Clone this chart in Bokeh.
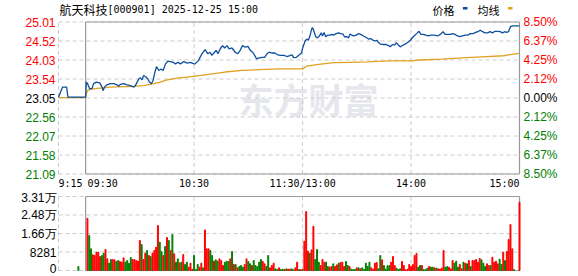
from bokeh.plotting import figure
from bokeh.models import Range1d
from bokeh.core.properties import value
from bokeh.embed import file_html
from bokeh.resources import INLINE

# ---------------- data ----------------
title_name = "航天科技"
title_code = "[000901] 2025-12-25 15:00"
legend_labels = ["价格", "均线"]
watermark = "东方财富"

prev_close = 23.05
price_ticks = [25.01, 24.52, 24.03, 23.54, 23.05, 22.56, 22.07, 21.58, 21.09]
pct_labels = ["8.50%", "6.37%", "4.25%", "2.12%", "0.00%", "2.12%", "4.25%", "6.37%", "8.50%"]
vol_ticks = [33125, 24844, 16562, 8281, 0]
vol_labels = ["3.31万", "2.48万", "1.66万", "8281", "0"]
time_ticks = [-15, 0, 60, 120, 180, 240]          # minutes from 09:30
time_labels = ["9:15", "09:30", "10:30", "11:30/13:00", "14:00", "15:00"]
grid_minutes = [-15, 60, 120, 180]

# price line (minutes from 09:30, price)
pre_t = [-15, -12.8, -10.5, -9.8, 0]
pre_p = [23.07, 23.33, 23.33, 23.07, 23.07]

am_t = [0.4, 1.1, 2.2, 3.5, 4.4, 5.9, 7.8, 9.1, 9.6, 10.4,
        11.8, 13.7, 15.5, 17.4, 18.3, 19.2, 21.1, 22.9, 24.8, 26.6,
        27.5, 28.5, 29.4, 30.3, 31.2, 32.1, 33.4, 34.4, 35.3, 36.4,
        37.3, 38.1, 38.6, 39.2, 40.5, 41.8, 42.9, 44.2, 45.5, 46.9,
        48.4, 49.7, 51.0, 52.5, 54.3, 56.2, 58.0, 59.9, 60.6, 62.5,
        64.3, 66.1, 67.6, 68.9, 69.8, 71.3, 72.2, 73.2, 74.5, 75.8,
        76.9, 78.2, 79.4, 80.9, 82.8, 84.1, 85.5, 86.8, 88.3, 89.8,
        91.1, 92.4, 93.5, 94.6, 95.7, 97.6, 99.0, 100.3, 101.6, 103.1,
        104.6, 106.4, 107.7, 109.6, 111.4, 113.3, 114.2, 115.1, 116.6, 117.9,
        119.4, 120.0]
am_p = [23.46, 23.42, 23.29, 23.29, 23.42, 23.46, 23.44, 23.33, 23.24, 23.33,
        23.39, 23.42, 23.42, 23.39, 23.35, 23.40, 23.42, 23.39, 23.37, 23.33,
        23.37, 23.46, 23.54, 23.57, 23.52, 23.63, 23.59, 23.54, 23.46, 23.42,
        23.50, 23.67, 23.76, 23.86, 23.76, 23.80, 23.76, 23.93, 24.00, 23.99,
        23.97, 23.93, 23.97, 23.93, 23.99, 23.95, 23.97, 23.93, 23.93, 24.02,
        24.19, 24.30, 24.19, 24.23, 24.15, 24.23, 24.28, 24.19, 24.32, 24.40,
        24.34, 24.40, 24.32, 24.34, 24.23, 24.19, 24.28, 24.40, 24.36, 24.38,
        24.28, 24.23, 24.15, 24.06, 24.08, 24.10, 24.10, 24.19, 24.23, 24.21,
        24.21, 24.16, 24.15, 24.15, 24.12, 24.15, 24.16, 24.09, 24.10, 24.15,
        24.21, 24.33]

pm_t = [121.4, 122.3, 123.2, 124.2, 125.1, 125.6, 126.4, 127.3, 128.2, 129.3,
        130.3, 131.0, 131.9, 132.8, 133.8, 135.2, 136.2, 137.1, 138.6, 139.9,
        141.2, 142.3, 143.2, 144.5, 145.4, 146.3, 147.3, 148.2, 149.7, 150.9,
        152.2, 153.7, 155.2, 156.5, 157.8, 158.9, 160.2, 161.1, 162.0, 163.0,
        164.8, 166.3, 167.6, 168.5, 169.8, 170.9, 171.8, 172.7, 174.0, 175.5,
        176.8, 178.1, 179.6, 181.2, 183.1, 184.4, 185.5, 186.8, 188.1, 189.6,
        191.0, 192.9, 194.7, 196.2, 197.7, 198.8, 200.3, 201.8, 202.9, 204.3,
        205.8, 207.1, 208.4, 209.9, 211.4, 212.8, 214.3, 215.8, 217.3, 218.4,
        219.5, 221.0, 222.4, 223.7, 225.0, 226.5, 228.0, 229.3, 230.6, 231.7,
        232.8, 233.9, 235.0, 236.1, 237.6, 240.0]
pm_p = [24.52, 24.57, 24.54, 24.67, 24.84, 24.86, 24.76, 24.63, 24.60, 24.65,
        24.73, 24.65, 24.74, 24.63, 24.67, 24.67, 24.69, 24.67, 24.71, 24.73,
        24.71, 24.70, 24.63, 24.63, 24.60, 24.70, 24.67, 24.65, 24.67, 24.71,
        24.69, 24.65, 24.61, 24.57, 24.58, 24.54, 24.52, 24.54, 24.48, 24.44,
        24.43, 24.43, 24.40, 24.37, 24.43, 24.41, 24.48, 24.43, 24.37, 24.41,
        24.44, 24.48, 24.54, 24.63, 24.71, 24.77, 24.69, 24.69, 24.67, 24.65,
        24.67, 24.67, 24.65, 24.69, 24.76, 24.69, 24.69, 24.69, 24.71, 24.69,
        24.65, 24.63, 24.65, 24.67, 24.67, 24.71, 24.71, 24.74, 24.77, 24.80,
        24.76, 24.73, 24.73, 24.76, 24.73, 24.77, 24.77, 24.76, 24.73, 24.76,
        24.74, 24.76, 24.89, 24.91, 24.91, 24.91]

avg_t = [-15, 0, 0.4, 1.1, 2.6, 6.3, 13.7, 26.6, 32.1, 37.7,
         41.4, 45.1, 50.6, 59.9, 68.0, 77.2, 86.5, 95.7, 106.8, 120.0,
         122.3, 127.9, 137.1, 146.3, 155.6, 168.5, 180.5, 184.0, 196.9, 210.8,
         219.1, 231.1, 234.8, 240]
avg_p = [23.06, 23.06, 23.16, 23.24, 23.27, 23.30, 23.33, 23.35, 23.37, 23.42,
         23.46, 23.52, 23.56, 23.61, 23.66, 23.72, 23.76, 23.78, 23.80, 23.80,
         23.87, 23.91, 23.96, 23.97, 23.98, 24.01, 24.01, 24.03, 24.05, 24.09,
         24.11, 24.14, 24.17, 24.20]

# volume per minute (morning 1..120, afternoon 121..237), r = up, g = down
vol_am = [23393, 15645, 9685, 7003, 6705, 8195, 8195, 6258, 6705, 7748,
          9387, 5215, 3278, 4917, 4917, 4768, 4023, 4470, 4023, 3725,
          5662, 3725, 4470, 3278, 5811, 4917, 4917, 4470, 4172, 13410,
          11622, 4917, 7748, 8940, 6705, 6258, 7748, 8940, 10430, 20115,
          12665, 8493, 6705, 10728, 14751, 13410, 8940, 16092, 7450, 3725,
          5215, 3427, 3725, 7152, 2682, 3725, 1490, 3278, 596, 6705,
          447, 2682, 1490, 3278, 1192, 18178, 9685, 9685, 8940, 6705,
          4172, 4768, 4172, 5215, 4470, 2235, 3725, 4172, 4023, 5215,
          8493, 2682, 2682, 1192, 1788, 2235, 1490, 2682, 5215, 4023,
          2980, 2235, 4470, 2235, 1788, 3725, 4917, 4023, 2980, 1788,
          6705, 1192, 2235, 3278, 745, 447, 1192, 447, 596, 447,
          745, 596, 596, 745, 298, 1192, 3725, 447, 447, 447]
dir_am = "rggrrrrrgg" "rrggrrggrr" "rggggrrrrr" "grrgrgrrrr" "ggrgrgrgrg" \
         "grgrggrrrg" "ggrrgrrrgg" "rggrrrgggr" "grgrgggrrg" "grgggggrrg" \
         "grrrggrggr" "grrggrrgrg"
vol_pm = [13112, 26373, 8642, 7748, 9238, 19817, 4917, 9387, 3725, 2235,
          4917, 3725, 3725, 1788, 1490, 1788, 2980, 1788, 2533, 3278,
          3576, 3725, 1788, 4023, 2235, 1788, 596, 447, 447, 1192,
          1192, 745, 1192, 447, 3278, 1788, 3725, 1192, 596, 3278,
          3576, 745, 6705, 4768, 2235, 596, 2086, 2235, 3725, 6258,
          2235, 1043, 447, 745, 4023, 2235, 298, 596, 2682, 1788,
          2682, 6705, 7599, 1490, 2235, 2235, 447, 447, 1043, 1788,
          1490, 1490, 1192, 1043, 745, 596, 1043, 8940, 1490, 1788,
          1490, 745, 4470, 3278, 4172, 1490, 2682, 745, 3725, 3278,
          2980, 4470, 1788, 4470, 4470, 4917, 3725, 5364, 4768, 3278,
          1788, 2980, 2235, 2235, 5960, 3725, 4172, 2980, 5066, 2682,
          8195, 4470, 8493, 13857, 20562, 9685, 447]
dir_pm = "rrrgrrgggr" "rrggrrgrrg" "rrrggrgggr" "grgggggrrr" "rggrggggrr" \
         "rgggrrrrrr" "rrrggrgggr" "ggrgrrrrgg" "rrrgggrrgr" "grgrrrrrgg" \
         "grrgrrrrgg" "rgrrrrg"
vol_pre = (-4, 1788, "g")      # 9:25 auction
vol_close = (240, 30545, "r")  # 15:00 closing auction

# ---------------- geometry ----------------
W, H = 578, 276
XL, XR = 58.0, 519.0          # pixel x of 9:15 and 15:00
PT, PB = 21.5, 173.5          # pixel y of top/bottom price ticks
VT, VB = 196.0, 270.0         # pixel y of top/bottom volume ticks
m_lo, m_hi = time_ticks[0], time_ticks[-1]
p_hi, p_lo = price_ticks[0], price_ticks[-1]
v_hi = vol_ticks[0]

ppm = (XR - XL) / (m_hi - m_lo)
xr = Range1d(m_lo - XL / ppm, m_hi + (W - XR) / ppm)
ppp = (PB - PT) / (p_hi - p_lo)
yr = Range1d(p_lo - (H - PB) / ppp, p_hi + PT / ppp)
vpp = (VB - VT) / v_hi
vr = Range1d(-(H - VB) / vpp, v_hi + VT / vpp)

RED, GREEN, BLACK = "#ff0000", "#008000", "#000000"
GRID, FRAME = "#cccccc", "#999999"
BLUE, GOLD = "#0d4f9e", "#e0a21e"

p = figure(width=W, height=H, x_range=xr, y_range=yr, output_backend="svg",
           toolbar_location=None, min_border=0,
           x_axis_location=None, y_axis_location=None)
p.extra_y_ranges = {"vol": vr, "px": Range1d(H, 0)}
p.extra_x_ranges = {"px": Range1d(0, W)}
p.grid.visible = False
p.outline_line_color = None
p.background_fill_color = "white"
p.border_fill_color = "white"

# watermark
p.text(x=[238], y=[98], text=[watermark], x_range_name="px", y_range_name="px",
       text_font=value("Noto Sans CJK SC"), text_font_size="35px", text_font_style="bold",
       text_color="#e6e7ec", text_baseline="middle", text_align="left")

# ---- price grid ----
n = len(price_ticks)
p.segment(x0=[m_lo] * n, x1=[m_hi] * n, y0=price_ticks, y1=price_ticks,
          line_color=GRID, line_dash="4 3", line_width=1)
g = len(grid_minutes)
p.segment(x0=grid_minutes, x1=grid_minutes, y0=[p_lo] * g, y1=[p_hi] * g,
          line_color=GRID, line_dash="4 3", line_width=1)
p.segment(x0=[0, 240, 0, 0], x1=[0, 240, 240, 240], y0=[p_lo, p_lo, p_hi, p_lo],
          y1=[p_hi, p_hi, p_hi, p_lo], line_color=FRAME, line_width=1.2)

# ---- volume grid ----
k = len(vol_ticks)
p.segment(x0=[m_lo] * k, x1=[m_hi] * k, y0=vol_ticks, y1=vol_ticks, y_range_name="vol",
          line_color=GRID, line_dash="4 3", line_width=1)
p.segment(x0=grid_minutes, x1=grid_minutes, y0=[0] * g, y1=[v_hi] * g, y_range_name="vol",
          line_color=GRID, line_dash="4 3", line_width=1)
p.segment(x0=[0, 240, 0, 0], x1=[0, 240, 240, 240], y0=[0, 0, v_hi, 0],
          y1=[v_hi, v_hi, v_hi, 0], y_range_name="vol", line_color=FRAME, line_width=1.2)

# ---- volume bars ----
vx = [vol_pre[0]] + list(range(1, 1 + len(vol_am))) + \
     list(range(121, 121 + len(vol_pm))) + [vol_close[0]]
vv = [vol_pre[1]] + vol_am + vol_pm + [vol_close[1]]
vd = vol_pre[2] + dir_am + dir_pm + vol_close[2]
vc = [RED if d == "r" else GREEN for d in vd]
p.vbar(x=vx, top=vv, bottom=0, width=0.52, color=vc, y_range_name="vol")

# ---- price & average lines ----
p.line(avg_t, avg_p, line_color=GOLD, line_width=1.3)
p.line(pre_t + am_t + pm_t, pre_p + am_p + pm_p, line_color=BLUE, line_width=1.3)

# ---- tick labels ----
pcol = [RED if v > prev_close + 1e-9 else (GREEN if v < prev_close - 1e-9 else BLACK)
        for v in price_ticks]
p.text(x=55, y=price_ticks, text=[f"{v:.2f}" for v in price_ticks], x_range_name="px",
       text_color=pcol, text_font=value("Liberation Sans"), text_font_size="12px",
       text_align="right", text_baseline="middle")
p.text(x=523, y=price_ticks, text=pct_labels, x_range_name="px",
       text_color=pcol, text_font=value("Liberation Sans"), text_font_size="12px",
       text_align="left", text_baseline="middle")
p.text(x=56, y=vol_ticks, text=vol_labels, x_range_name="px", y_range_name="vol",
       y_offset=[1, 0, 0, 0, -2.5],
       text_color=BLACK, text_font=value("Liberation Sans"), text_font_size="12px",
       text_align="right", text_baseline="middle")
t_align = ["left", "left", "center", "center", "center", "right"]
t_off = [0, 2, 0, 0, 0, 0]
p.text(x=time_ticks, y=[183] * len(time_ticks), text=time_labels, y_range_name="px",
       x_offset=t_off, text_align=t_align, text_baseline="middle",
       text_color=BLACK, text_font=value("DejaVu Sans Mono"), text_font_size="10px")

# ---- title and legend ----
p.text(x=[59], y=[9], text=[title_name], x_range_name="px", y_range_name="px",
       text_font=value("Noto Sans CJK SC"), text_font_size="12px", text_color=BLACK,
       text_baseline="middle", text_align="left")
p.text(x=[107], y=[9], text=[title_code], x_range_name="px", y_range_name="px",
       text_font=value("DejaVu Sans Mono"), text_font_size="10px", text_color=BLACK,
       text_baseline="middle", text_align="left")
p.text(x=[432, 477], y=[9, 9], text=legend_labels, x_range_name="px", y_range_name="px",
       text_font=value("Noto Sans CJK SC"), text_font_size="11px", text_color=BLACK,
       text_baseline="middle", text_align="left")
p.rect(x=[464.7, 509.7], y=[7.8, 7.8], width=4.6, height=2.6, x_range_name="px",
       y_range_name="px", color=[BLUE, GOLD], line_width=0)

open("out.html", "w").write(file_html(p, INLINE))
